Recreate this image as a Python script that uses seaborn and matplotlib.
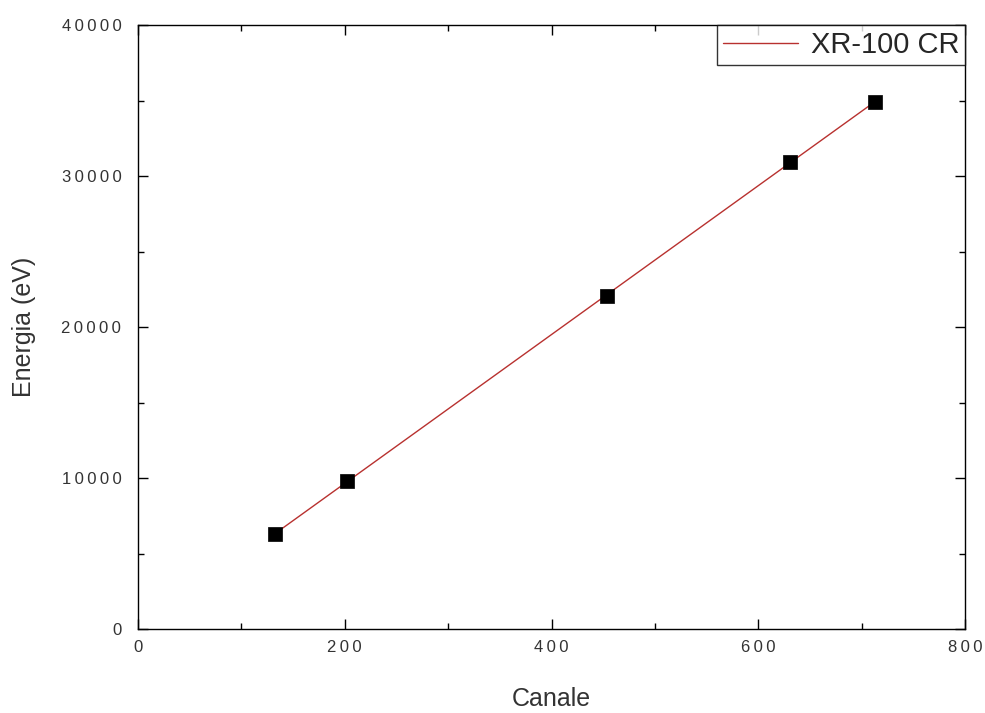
import matplotlib
matplotlib.use("Agg")
import matplotlib.pyplot as plt
from matplotlib.ticker import MultipleLocator, FuncFormatter
import seaborn as sns
import pandas as pd

# Calibration points: channel vs energy
canale = [132.5, 202, 453.5, 630.5, 712.8]
energia = [6290, 9800, 22050, 30930, 34900]
series_label = "XR-100 CR"

df = pd.DataFrame({"Canale": canale, "Energia": energia})

sns.set_theme(style="ticks")
plt.rcParams["font.family"] = ["Liberation Sans", "DejaVu Sans"]

fig = plt.figure(figsize=(9.85, 7.13), dpi=100)
ax = fig.add_axes([138 / 985, 1 - 629 / 713, (965 - 138) / 985, (629 - 25) / 713])

# Linear fit across the data range
sns.regplot(data=df, x="Canale", y="Energia", ax=ax, scatter=False, ci=None,
            truncate=True, color="#b8312f", line_kws={"linewidth": 1.0},
            label=series_label)
sns.scatterplot(data=df, x="Canale", y="Energia", ax=ax, marker="s", s=110,
                color="black", edgecolor="black", linewidth=0.5, zorder=3)

ax.set_xlim(0, 800)
ax.set_ylim(0, 40000)
ax.xaxis.set_major_locator(MultipleLocator(200))
ax.xaxis.set_minor_locator(MultipleLocator(100))
ax.yaxis.set_major_locator(MultipleLocator(10000))
ax.yaxis.set_minor_locator(MultipleLocator(5000))

# widely spaced digits in tick labels
spaced = FuncFormatter(lambda v, pos: "\u2009".join(f"{v:.0f}"))
ax.xaxis.set_major_formatter(spaced)
ax.yaxis.set_major_formatter(spaced)

ax.tick_params(which="both", direction="in", top=True, right=True, color="black")
ax.tick_params(which="major", length=7, width=1.0, labelsize=12, labelcolor="#333333")
ax.tick_params(axis="y", which="major", pad=12)
ax.tick_params(axis="x", which="major", pad=8)
ax.tick_params(which="minor", length=4, width=1.0)
for sp in ax.spines.values():
    sp.set_color("black")
    sp.set_linewidth(1.0)

ax.set_xlabel("Canale", fontsize=18, color="#333333", labelpad=23)
ax.set_ylabel("Energia (eV)", fontsize=18, color="#333333", labelpad=18)

handles, labels = ax.get_legend_handles_labels()
leg = ax.legend(handles[:1], labels[:1], loc="upper right", fontsize=21,
                frameon=True, fancybox=False, borderaxespad=0, handlelength=2.55,
                handletextpad=0.45, borderpad=0.2)
leg.get_frame().set_edgecolor("black")
leg.get_frame().set_linewidth(1.0)

fig.savefig("out.png", dpi=100)
